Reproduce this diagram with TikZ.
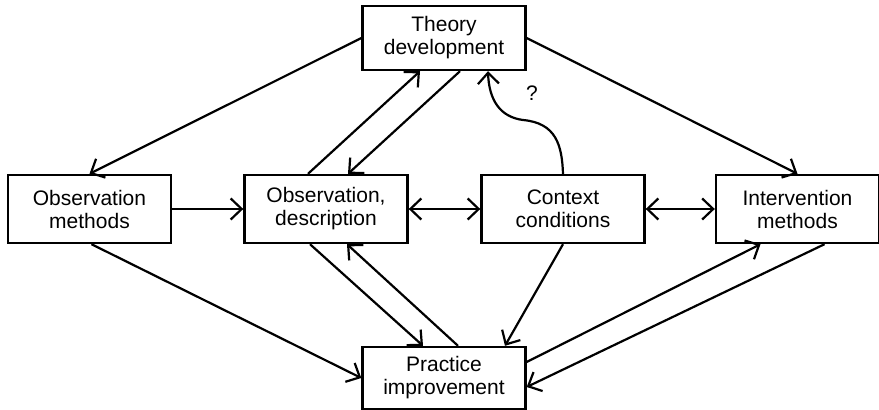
\documentclass[tikz,border=0pt]{standalone}
\usepackage{fontspec}
\setmainfont{Liberation Sans}
\usetikzlibrary{arrows.meta}
\begin{document}
\begin{tikzpicture}[x=1pt,y=-1pt,
  box/.style={draw, line width=2.4pt, fill=white, align=center,
    minimum width=163pt, minimum height=68pt, inner sep=0pt,
    font=\fontsize{21}{23}\selectfont},
  conn/.style={line width=2.2pt},
  tip/.style={-{Straight Barb[length=11pt,width=21pt,line width=2.2pt]}},
  tips/.style={{Straight Barb[length=11pt,width=21pt,line width=2.2pt]}-{Straight Barb[length=11pt,width=21pt,line width=2.2pt]}}]
\useasboundingbox (0,0) rectangle (879,410);

% boxes
\node[box, minimum height=64pt] (theory) at (444,38) {Theory\\development};
\node[box] (om)  at (89.5,209) {Observation\\methods};
\node[box] (od)  at (326,209)  {Observation,\\description};
\node[box] (ctx) at (563,209)  {Context\\conditions};
\node[box] (iv)  at (797.5,209) {Intervention\\methods};
\node[box, minimum height=62pt] (prac) at (444,378) {Practice\\improvement};

% from theory to the method boxes
\draw[conn,tip] (theory.west) -- (om.north);
\draw[conn,tip] (theory.east) -- (iv.north);

% theory <-> observation, description
\draw[conn,tip] ([xshift=-18pt]od.north) -- ([xshift=-24pt]theory.south);
\draw[conn,tip] ([xshift=16pt]theory.south) -- ([xshift=22pt]od.north);

% context conditions -> theory (open question)
\coordinate (bend) at (523,120);
\draw[conn,tip] (ctx.north) .. controls (562,145) and (556,123) .. (bend)
  .. controls (500,117) and (489,100) .. ([xshift=44pt]theory.south);
\node[font=\fontsize{21}{23}\selectfont] (q) at (532,93) {?};

% middle row
\draw[conn,tip] (om.east) -- (od.west);
\draw[conn,tips] (od.east) -- (ctx.west);
\draw[conn,tips] (ctx.east) -- (iv.west);

% towards practice improvement
\draw[conn,tip] ([xshift=2pt]om.south) -- (prac.west);
\draw[conn,tip] ([xshift=-16pt]od.south) -- ([xshift=-21pt]prac.north);
\draw[conn,tip] ([xshift=14pt]prac.north) -- ([xshift=21pt]od.south);
\draw[conn,tip] (ctx.south) -- ([xshift=61pt]prac.north);
\draw[conn,tip] ([yshift=16pt]prac.east) -- ([xshift=-37pt]iv.south);
\draw[conn,tip] ([xshift=27pt]iv.south) -- ([yshift=-9pt]prac.east);
\end{tikzpicture}
\end{document}
